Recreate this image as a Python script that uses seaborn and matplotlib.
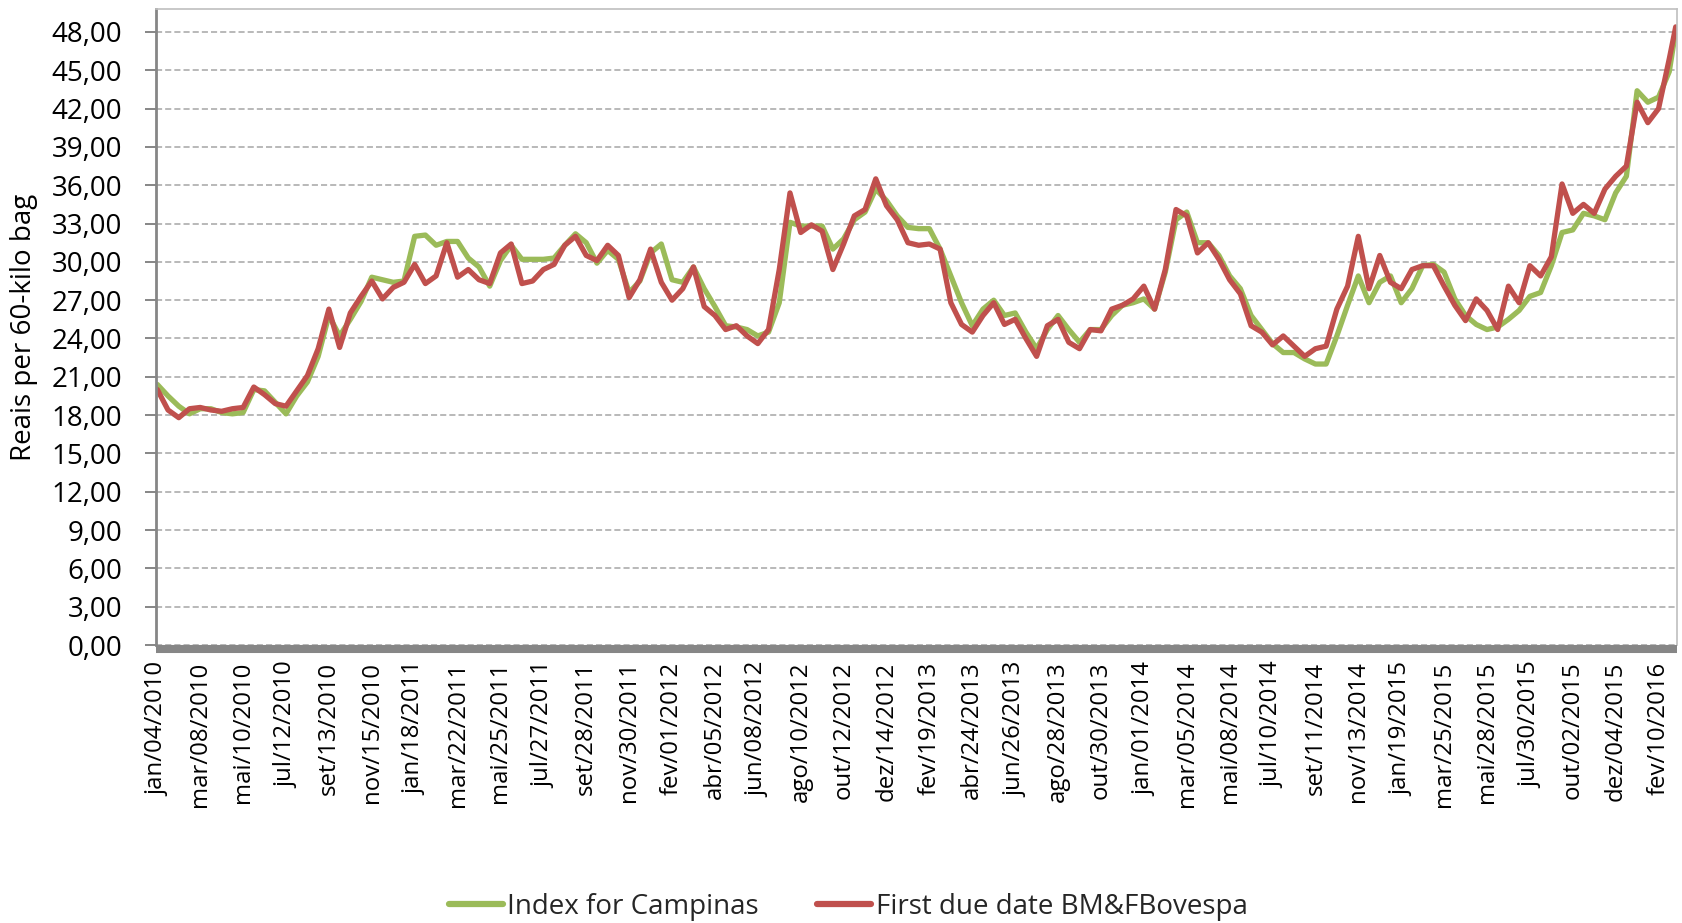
import numpy as np
import pandas as pd
import matplotlib
matplotlib.use("Agg")
import matplotlib.pyplot as plt
import seaborn as sns
from matplotlib.lines import Line2D
from matplotlib.ticker import FuncFormatter

# ---------------- data ----------------
tick_labels = [
    "jan/04/2010", "mar/08/2010", "mai/10/2010", "jul/12/2010", "set/13/2010",
    "nov/15/2010", "jan/18/2011", "mar/22/2011", "mai/25/2011", "jul/27/2011",
    "set/28/2011", "nov/30/2011", "fev/01/2012", "abr/05/2012", "jun/08/2012",
    "ago/10/2012", "out/12/2012", "dez/14/2012", "fev/19/2013", "abr/24/2013",
    "jun/26/2013", "ago/28/2013", "out/30/2013", "jan/01/2014", "mar/05/2014",
    "mai/08/2014", "jul/10/2014", "set/11/2014", "nov/13/2014", "jan/19/2015",
    "mar/25/2015", "mai/28/2015", "jul/30/2015", "out/02/2015", "dez/04/2015",
    "fev/10/2016",
]

# sampled every quarter of a label interval, last sample = end of series
campinas = [
    20.4, 19.5, 18.7, 18.1, 18.5, 18.5, 18.2, 18.1,
    18.2, 20.0, 19.9, 19.0, 18.1, 19.5, 20.6, 22.6,
    25.8, 24.2, 25.5, 26.9, 28.8, 28.6, 28.4, 28.5,
    32.0, 32.1, 31.3, 31.6, 31.6, 30.3, 29.6, 28.1,
    30.1, 31.3, 30.2, 30.2, 30.2, 30.3, 31.3, 32.2,
    31.5, 29.9, 30.9, 30.2, 27.6, 28.5, 30.7, 31.4,
    28.6, 28.4, 29.6, 27.9, 26.5, 25.0, 24.9, 24.7,
    24.2, 24.5, 26.8, 33.1, 32.8, 32.8, 32.8, 31.0,
    31.8, 33.3, 33.9, 35.7, 34.8, 33.6, 32.7, 32.6,
    32.6, 31.0, 28.9, 26.8, 25.0, 26.3, 27.0, 25.8,
    26.0, 24.5, 23.2, 24.7, 25.8, 24.7, 23.7, 24.7,
    24.7, 25.8, 26.6, 26.8, 27.1, 26.3, 29.2, 33.3,
    33.9, 31.5, 31.5, 30.5, 28.9, 27.9, 25.8, 24.7,
    23.6, 22.9, 22.9, 22.4, 22.0, 22.0, 24.2, 26.6,
    28.9, 26.8, 28.4, 28.9, 26.8, 27.9, 29.7, 29.8,
    29.2, 27.1, 25.8, 25.1, 24.7, 24.9, 25.5, 26.2,
    27.3, 27.6, 29.7, 32.3, 32.5, 33.8, 33.6, 33.3,
    35.4, 36.7, 43.4, 42.5, 42.9, 44.9, 48.1,
]

bmf = [
    20.0, 18.4, 17.8, 18.5, 18.6, 18.4, 18.3, 18.5,
    18.6, 20.2, 19.6, 18.9, 18.7, 19.9, 21.1, 23.2,
    26.3, 23.3, 26.0, 27.3, 28.5, 27.1, 28.0, 28.4,
    29.8, 28.3, 28.9, 31.5, 28.8, 29.4, 28.6, 28.3,
    30.7, 31.4, 28.3, 28.5, 29.4, 29.8, 31.3, 32.0,
    30.5, 30.1, 31.3, 30.5, 27.2, 28.6, 31.0, 28.4,
    27.0, 27.9, 29.6, 26.5, 25.8, 24.7, 25.0, 24.2,
    23.6, 24.7, 29.4, 35.4, 32.3, 32.9, 32.4, 29.4,
    31.4, 33.6, 34.1, 36.5, 34.4, 33.3, 31.5, 31.3,
    31.4, 31.0, 26.8, 25.1, 24.5, 25.8, 26.8, 25.1,
    25.5, 24.0, 22.6, 25.0, 25.5, 23.7, 23.2, 24.7,
    24.6, 26.3, 26.6, 27.1, 28.1, 26.3, 29.4, 34.1,
    33.6, 30.7, 31.5, 30.2, 28.6, 27.5, 25.0, 24.5,
    23.5, 24.2, 23.4, 22.6, 23.2, 23.4, 26.3, 28.1,
    32.0, 27.9, 30.5, 28.4, 27.9, 29.4, 29.7, 29.7,
    28.1, 26.6, 25.4, 27.1, 26.2, 24.7, 28.1, 26.8,
    29.7, 28.9, 30.4, 36.1, 33.8, 34.5, 33.8, 35.7,
    36.7, 37.5, 42.5, 40.9, 42.0, 45.9, 48.4,
]

series_names = ["Index for Campinas", "First due date BM&FBovespa"]
colors = {"Index for Campinas": "#9BBB59", "First due date BM&FBovespa": "#C0504D"}

x_pos = np.r_[np.arange(len(campinas) - 1) * 0.25, 35.4]

df = pd.DataFrame({
    "x": np.r_[x_pos, x_pos],
    "value": campinas + bmf,
    "series": [series_names[0]] * len(campinas) + [series_names[1]] * len(bmf),
})

# ---------------- style ----------------
sns.set_theme(style="white")
plt.rcParams["font.family"] = ["Open Sans", "DejaVu Sans"]

W, H = 1683, 923
fig = plt.figure(figsize=(W / 100, H / 100), dpi=100)
left, right, top, bottom = 155.6, 1677, 9, 645
ax = fig.add_axes([left / W, 1 - bottom / H, (right - left) / W, (bottom - top) / H])

sns.lineplot(data=df, x="x", y="value", hue="series", palette=colors,
             hue_order=series_names, linewidth=3.8, estimator=None, sort=False,
             legend=False, ax=ax)

ax.set_xlim(-0.04, 35.43)
ax.set_ylim(0, 49.8)

# y axis
ax.set_yticks(np.arange(0, 49, 3))
ax.yaxis.set_major_formatter(FuncFormatter(lambda v, p: f"{v:.2f}".replace(".", ",")))
ax.yaxis.grid(True, linestyle=(0, (4, 2)), color="#A6A6A6", linewidth=1.1)
ax.set_axisbelow(True)
ax.tick_params(axis="y", which="major", left=True, length=8, width=1.4,
               color="#868686", pad=16, labelsize=20, labelcolor="black")
ax.set_ylabel("Reais per 60-kilo bag", fontsize=20, labelpad=10, color="black")

# x axis
ax.set_xticks(np.arange(len(tick_labels)))
ax.set_xticklabels(tick_labels)
ax.tick_params(axis="x", which="major", bottom=True, length=0, pad=9,
               labelsize=17.3, labelcolor="black", labelrotation=90)
for lab in ax.get_xticklabels():
    lab.set_ha("center")
    lab.set_va("top")
ax.set_xlabel("")

# spines
ax.spines["left"].set_color("#868686")
ax.spines["left"].set_linewidth(2)
ax.spines["bottom"].set_color("#868686")
ax.spines["bottom"].set_linewidth(5.8)
ax.spines["bottom"].set_position(("outward", 2.9))
ax.spines["bottom"].set_capstyle("butt")
for s in ("top", "right"):
    ax.spines[s].set_color("#BFBFBF")
    ax.spines[s].set_linewidth(1.2)

# legend
handles = [Line2D([0], [0], color=colors[n], linewidth=4.5) for n in series_names]
fig.legend(handles, series_names, loc="center", bbox_to_anchor=(0.504, 0.0175),
           ncol=2, frameon=False, fontsize=20, handlelength=1.95,
           handletextpad=0.15, columnspacing=2.1)

fig.savefig("out.png", dpi=100)
